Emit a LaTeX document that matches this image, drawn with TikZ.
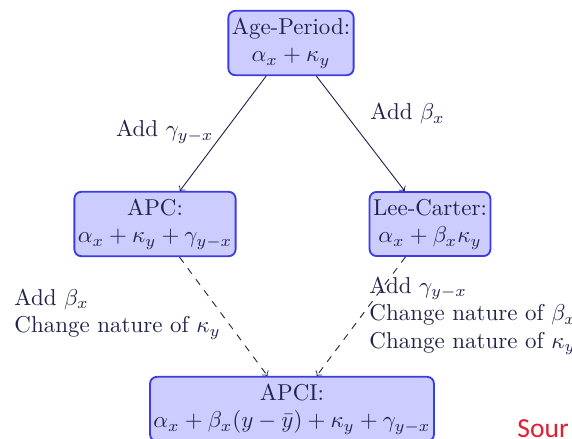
\documentclass[tikz,border=0pt]{standalone}
\usepackage{amsmath}
\usepackage{fontspec}
\newfontfamily\srcfont{Carlito}
\definecolor{ink}{RGB}{35,35,75}
\definecolor{boxfill}{RGB}{204,204,255}
\definecolor{boxline}{RGB}{60,60,230}
\definecolor{srcred}{RGB}{225,30,50}
\tikzset{
	model/.style = {draw = boxline, fill = boxfill, rounded corners = 3pt, thick, align = center, inner xsep = 1.5pt, inner ysep = 3pt, text = ink},
	note/.style = {align = left, text = ink, inner sep = 0pt},
	link/.style = {->, ink, thin},
}
\begin{document}
\begin{tikzpicture}[x = 0.0153cm, y = -0.0153cm]
				%	frame
				\useasboundingbox (0, 0) rectangle (572, 439);
				
				%	models
				\node[model] (ap) at (291, 43) {Age-Period:\\$\alpha_x + \kappa_y$};
				\node[model] (apc) at (155, 224) {APC:\\$\alpha_x + \kappa_y + \gamma_{y-x}$};
				\node[model] (lc) at (430, 224) {Lee-Carter:\\$\alpha_x + \beta_x\kappa_y$};
				\node[model] (apci) at (292, 409) {APCI:\\$\alpha_x + \beta_x(y - \bar{y}) + \kappa_y + \gamma_{y-x}$};
				
				%	links
				\draw[link] (ap) -- (apc);
				\draw[link] (ap) -- (lc);
				\draw[link, dashed] (apc) -- (apci);
				\draw[link, dashed] (lc) -- (apci);
				
				%	notes
				\node[note, anchor = east] (addgamma) at (214, 132) {Add $\gamma_{y-x}$};
				\node[note, anchor = west] (addbeta) at (370, 114) {Add $\beta_x$};
				\node[note, anchor = west] (leftnote) at (14, 314) {Add $\beta_x$\\Change nature of $\kappa_y$};
				\node[note, anchor = west] (rightnote) at (369, 316) {Add $\gamma_{y-x}$\\Change nature of $\beta_x$\\Change nature of $\kappa_y$};
				
				%	source
				\node[anchor = west, inner sep = 0pt, text = srcred, font = \srcfont\fontsize{12}{14}\selectfont] (src) at (517, 429) {Sour};
\end{tikzpicture}
\end{document}
